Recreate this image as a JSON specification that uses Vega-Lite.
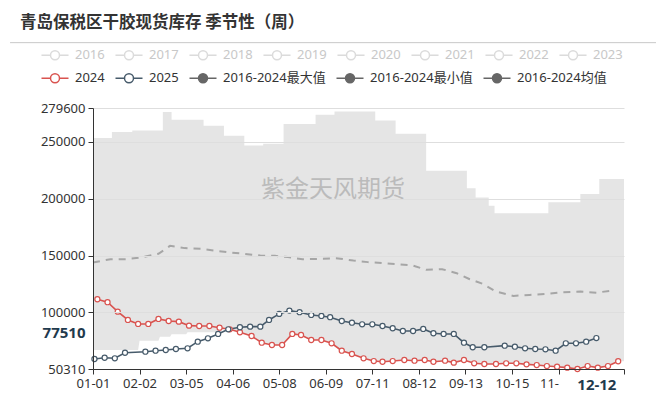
{
  "$schema": "https://vega.github.io/schema/vega-lite/v6.json",
  "width": 531,
  "height": 261,
  "autosize": {"type": "none"},
  "padding": {"left": 93, "top": 108, "right": 43, "bottom": 27},
  "background": "white",
  "title": {
    "text": "青岛保税区干胶现货库存 季节性（周）",
    "anchor": "start",
    "frame": "group",
    "dx": -73,
    "dy": 1,
    "offset": 12,
    "font": "Noto Sans CJK SC",
    "fontSize": 16.5,
    "fontWeight": "bold",
    "color": "#333333"
  },
  "config": {
    "view": {"stroke": null},
    "axis": {
      "labelFont": "Noto Sans",
      "labelFontSize": 13,
      "labelColor": "#333333",
      "domainColor": "#333333",
      "tickColor": "#333333",
      "gridColor": "#dedede"
    }
  },
  "datasets": {
    "maxv": [
      {"date": "2024-01-01", "value": 253200},
      {"date": "2024-01-14", "value": 258500},
      {"date": "2024-01-28", "value": 259900},
      {"date": "2024-02-18", "value": 276000},
      {"date": "2024-02-24", "value": 269300},
      {"date": "2024-03-17", "value": 264000},
      {"date": "2024-03-31", "value": 255200},
      {"date": "2024-04-14", "value": 246700},
      {"date": "2024-04-27", "value": 248200},
      {"date": "2024-05-11", "value": 265500},
      {"date": "2024-06-02", "value": 273700},
      {"date": "2024-06-15", "value": 276600},
      {"date": "2024-07-13", "value": 268700},
      {"date": "2024-07-27", "value": 257000},
      {"date": "2024-08-17", "value": 224500},
      {"date": "2024-09-14", "value": 209200},
      {"date": "2024-09-20", "value": 201000},
      {"date": "2024-09-29", "value": 193700},
      {"date": "2024-10-03", "value": 187200},
      {"date": "2024-11-09", "value": 196900},
      {"date": "2024-12-01", "value": 204000},
      {"date": "2024-12-14", "value": 217200},
      {"date": "2024-12-31", "value": 217200}
    ],
    "minv": [
      {"date": "2024-01-01", "value": 67000},
      {"date": "2024-02-01", "value": 67000},
      {"date": "2024-02-02", "value": 75200},
      {"date": "2024-02-15", "value": 75200},
      {"date": "2024-02-16", "value": 78700},
      {"date": "2024-02-23", "value": 78700},
      {"date": "2024-02-24", "value": 80800},
      {"date": "2024-03-05", "value": 80800},
      {"date": "2024-03-06", "value": 82600},
      {"date": "2024-03-29", "value": 82600},
      {"date": "2024-03-30", "value": 85200},
      {"date": "2024-04-04", "value": 85200},
      {"date": "2024-04-11", "value": 82600},
      {"date": "2024-04-19", "value": 79300},
      {"date": "2024-04-26", "value": 73400},
      {"date": "2024-05-03", "value": 71400},
      {"date": "2024-05-10", "value": 71400},
      {"date": "2024-05-17", "value": 81100},
      {"date": "2024-05-23", "value": 80200},
      {"date": "2024-05-30", "value": 75800},
      {"date": "2024-06-06", "value": 75800},
      {"date": "2024-06-13", "value": 72900},
      {"date": "2024-06-20", "value": 66400},
      {"date": "2024-06-27", "value": 63500},
      {"date": "2024-07-05", "value": 59700},
      {"date": "2024-07-12", "value": 57300},
      {"date": "2024-07-18", "value": 56700},
      {"date": "2024-07-25", "value": 57300},
      {"date": "2024-08-02", "value": 58200},
      {"date": "2024-08-09", "value": 57600},
      {"date": "2024-08-16", "value": 58200},
      {"date": "2024-08-22", "value": 56700},
      {"date": "2024-08-30", "value": 57600},
      {"date": "2024-09-05", "value": 55900},
      {"date": "2024-09-12", "value": 58200},
      {"date": "2024-09-19", "value": 55300},
      {"date": "2024-09-26", "value": 54700},
      {"date": "2024-10-04", "value": 54700},
      {"date": "2024-10-11", "value": 55300},
      {"date": "2024-10-18", "value": 55300},
      {"date": "2024-10-25", "value": 54400},
      {"date": "2024-11-01", "value": 53800},
      {"date": "2024-11-08", "value": 52900},
      {"date": "2024-11-15", "value": 52300},
      {"date": "2024-11-22", "value": 51500},
      {"date": "2024-11-29", "value": 50310},
      {"date": "2024-12-06", "value": 52900},
      {"date": "2024-12-13", "value": 51500},
      {"date": "2024-12-20", "value": 52900},
      {"date": "2024-12-27", "value": 57100},
      {"date": "2024-12-31", "value": 57100}
    ],
    "meanv": [
      {"date": "2024-01-01", "value": 143800},
      {"date": "2024-01-13", "value": 146800},
      {"date": "2024-01-24", "value": 146800},
      {"date": "2024-02-03", "value": 148200},
      {"date": "2024-02-15", "value": 151500},
      {"date": "2024-02-23", "value": 158500},
      {"date": "2024-03-04", "value": 156500},
      {"date": "2024-03-15", "value": 155900},
      {"date": "2024-03-26", "value": 154100},
      {"date": "2024-04-05", "value": 152600},
      {"date": "2024-04-14", "value": 151500},
      {"date": "2024-04-25", "value": 150000},
      {"date": "2024-05-05", "value": 149700},
      {"date": "2024-05-14", "value": 148600},
      {"date": "2024-05-24", "value": 146800},
      {"date": "2024-06-05", "value": 147100},
      {"date": "2024-06-16", "value": 147700},
      {"date": "2024-06-28", "value": 145600},
      {"date": "2024-07-08", "value": 144200},
      {"date": "2024-07-19", "value": 143300},
      {"date": "2024-07-28", "value": 142400},
      {"date": "2024-08-08", "value": 141200},
      {"date": "2024-08-17", "value": 137400},
      {"date": "2024-08-28", "value": 138000},
      {"date": "2024-09-07", "value": 134500},
      {"date": "2024-09-16", "value": 129200},
      {"date": "2024-09-25", "value": 125100},
      {"date": "2024-10-04", "value": 118300},
      {"date": "2024-10-16", "value": 114500},
      {"date": "2024-10-27", "value": 115400},
      {"date": "2024-11-08", "value": 116300},
      {"date": "2024-11-19", "value": 117800},
      {"date": "2024-12-01", "value": 118300},
      {"date": "2024-12-12", "value": 117400},
      {"date": "2024-12-23", "value": 119200}
    ],
    "lines": [
      {"series": "2024", "date": "2024-01-04", "value": 111600},
      {"series": "2024", "date": "2024-01-11", "value": 109000},
      {"series": "2024", "date": "2024-01-18", "value": 100700},
      {"series": "2024", "date": "2024-01-25", "value": 93400},
      {"series": "2024", "date": "2024-02-01", "value": 89900},
      {"series": "2024", "date": "2024-02-08", "value": 89900},
      {"series": "2024", "date": "2024-02-15", "value": 94300},
      {"series": "2024", "date": "2024-02-22", "value": 92500},
      {"series": "2024", "date": "2024-02-29", "value": 91900},
      {"series": "2024", "date": "2024-03-07", "value": 88400},
      {"series": "2024", "date": "2024-03-14", "value": 88100},
      {"series": "2024", "date": "2024-03-21", "value": 88100},
      {"series": "2024", "date": "2024-03-28", "value": 86600},
      {"series": "2024", "date": "2024-04-04", "value": 85200},
      {"series": "2024", "date": "2024-04-11", "value": 82600},
      {"series": "2024", "date": "2024-04-19", "value": 79300},
      {"series": "2024", "date": "2024-04-26", "value": 73400},
      {"series": "2024", "date": "2024-05-03", "value": 71400},
      {"series": "2024", "date": "2024-05-10", "value": 71400},
      {"series": "2024", "date": "2024-05-17", "value": 81100},
      {"series": "2024", "date": "2024-05-23", "value": 80200},
      {"series": "2024", "date": "2024-05-30", "value": 75800},
      {"series": "2024", "date": "2024-06-06", "value": 75800},
      {"series": "2024", "date": "2024-06-13", "value": 72900},
      {"series": "2024", "date": "2024-06-20", "value": 66400},
      {"series": "2024", "date": "2024-06-27", "value": 63500},
      {"series": "2024", "date": "2024-07-05", "value": 59700},
      {"series": "2024", "date": "2024-07-12", "value": 57300},
      {"series": "2024", "date": "2024-07-18", "value": 56700},
      {"series": "2024", "date": "2024-07-25", "value": 57300},
      {"series": "2024", "date": "2024-08-02", "value": 58200},
      {"series": "2024", "date": "2024-08-09", "value": 57600},
      {"series": "2024", "date": "2024-08-16", "value": 58200},
      {"series": "2024", "date": "2024-08-22", "value": 56700},
      {"series": "2024", "date": "2024-08-30", "value": 57600},
      {"series": "2024", "date": "2024-09-05", "value": 55900},
      {"series": "2024", "date": "2024-09-12", "value": 58200},
      {"series": "2024", "date": "2024-09-19", "value": 55300},
      {"series": "2024", "date": "2024-09-26", "value": 54700},
      {"series": "2024", "date": "2024-10-04", "value": 54700},
      {"series": "2024", "date": "2024-10-11", "value": 55300},
      {"series": "2024", "date": "2024-10-18", "value": 55300},
      {"series": "2024", "date": "2024-10-25", "value": 54400},
      {"series": "2024", "date": "2024-11-01", "value": 53800},
      {"series": "2024", "date": "2024-11-08", "value": 52900},
      {"series": "2024", "date": "2024-11-15", "value": 52300},
      {"series": "2024", "date": "2024-11-22", "value": 51500},
      {"series": "2024", "date": "2024-11-29", "value": 50310},
      {"series": "2024", "date": "2024-12-06", "value": 52900},
      {"series": "2024", "date": "2024-12-13", "value": 51500},
      {"series": "2024", "date": "2024-12-20", "value": 52900},
      {"series": "2024", "date": "2024-12-27", "value": 57100},
      {"series": "2025", "date": "2024-01-02", "value": 59100},
      {"series": "2025", "date": "2024-01-09", "value": 60200},
      {"series": "2025", "date": "2024-01-16", "value": 59700},
      {"series": "2025", "date": "2024-01-23", "value": 64600},
      {"series": "2025", "date": "2024-02-06", "value": 65500},
      {"series": "2025", "date": "2024-02-13", "value": 66400},
      {"series": "2025", "date": "2024-02-20", "value": 67000},
      {"series": "2025", "date": "2024-02-27", "value": 67900},
      {"series": "2025", "date": "2024-03-06", "value": 68500},
      {"series": "2025", "date": "2024-03-13", "value": 74300},
      {"series": "2025", "date": "2024-03-20", "value": 77300},
      {"series": "2025", "date": "2024-03-27", "value": 81100},
      {"series": "2025", "date": "2024-04-03", "value": 85200},
      {"series": "2025", "date": "2024-04-11", "value": 87000},
      {"series": "2025", "date": "2024-04-18", "value": 87500},
      {"series": "2025", "date": "2024-04-25", "value": 87500},
      {"series": "2025", "date": "2024-05-01", "value": 93400},
      {"series": "2025", "date": "2024-05-08", "value": 98700},
      {"series": "2025", "date": "2024-05-15", "value": 101600},
      {"series": "2025", "date": "2024-05-22", "value": 100200},
      {"series": "2025", "date": "2024-05-30", "value": 97800},
      {"series": "2025", "date": "2024-06-06", "value": 96900},
      {"series": "2025", "date": "2024-06-12", "value": 95800},
      {"series": "2025", "date": "2024-06-20", "value": 92500},
      {"series": "2025", "date": "2024-06-27", "value": 91000},
      {"series": "2025", "date": "2024-07-04", "value": 89600},
      {"series": "2025", "date": "2024-07-11", "value": 89600},
      {"series": "2025", "date": "2024-07-18", "value": 88100},
      {"series": "2025", "date": "2024-07-25", "value": 86100},
      {"series": "2025", "date": "2024-08-01", "value": 83700},
      {"series": "2025", "date": "2024-08-08", "value": 83700},
      {"series": "2025", "date": "2024-08-15", "value": 85500},
      {"series": "2025", "date": "2024-08-22", "value": 81700},
      {"series": "2025", "date": "2024-08-29", "value": 81100},
      {"series": "2025", "date": "2024-09-05", "value": 81100},
      {"series": "2025", "date": "2024-09-12", "value": 73400},
      {"series": "2025", "date": "2024-09-18", "value": 69400},
      {"series": "2025", "date": "2024-09-26", "value": 69400},
      {"series": "2025", "date": "2024-10-10", "value": 70800},
      {"series": "2025", "date": "2024-10-17", "value": 69900},
      {"series": "2025", "date": "2024-10-24", "value": 68500},
      {"series": "2025", "date": "2024-10-31", "value": 67900},
      {"series": "2025", "date": "2024-11-07", "value": 67600},
      {"series": "2025", "date": "2024-11-14", "value": 66400},
      {"series": "2025", "date": "2024-11-21", "value": 72900},
      {"series": "2025", "date": "2024-11-28", "value": 72900},
      {"series": "2025", "date": "2024-12-05", "value": 74300},
      {"series": "2025", "date": "2024-12-12", "value": 77510}
    ]
  },
  "layer": [
    {
      "encoding": {
        "x": {
          "field": "date",
          "type": "temporal",
          "scale": {
            "type": "utc",
            "domain": [
              {"year": 2024, "month": 1, "date": 1, "utc": true},
              {"year": 2024, "month": 12, "date": 31, "utc": true}
            ]
          },
          "axis": {
            "title": null,
            "grid": false,
            "zindex": 1,
            "tickSize": 5,
            "labelPadding": 3,
            "labelOverlap": false,
            "labelFlush": false,
            "values": [
              {"year": 2024, "month": 1, "date": 1, "utc": true},
              {"year": 2024, "month": 2, "date": 2, "utc": true},
              {"year": 2024, "month": 3, "date": 5, "utc": true},
              {"year": 2024, "month": 4, "date": 6, "utc": true},
              {"year": 2024, "month": 5, "date": 8, "utc": true},
              {"year": 2024, "month": 6, "date": 9, "utc": true},
              {"year": 2024, "month": 7, "date": 11, "utc": true},
              {"year": 2024, "month": 8, "date": 12, "utc": true},
              {"year": 2024, "month": 9, "date": 13, "utc": true},
              {"year": 2024, "month": 10, "date": 15, "utc": true},
              {"year": 2024, "month": 11, "date": 16, "utc": true},
              {"year": 2024, "month": 12, "date": 12, "utc": true},
              {"year": 2024, "month": 12, "date": 31, "utc": true}
            ],
            "labelExpr": "utcFormat(datum.value, '%m-%d') == '11-16' ? '11-' : (utcFormat(datum.value, '%m-%d') == '12-31' ? '' : utcFormat(datum.value, '%m-%d'))",
            "labelAlign": {"condition": {"test": "utcFormat(datum.value, '%m-%d') == '11-16'", "value": "right"}, "value": "center"},
            "labelFontWeight": {"condition": {"test": "utcFormat(datum.value, '%m-%d') == '12-12'", "value": "bold"}, "value": "normal"},
            "labelFontSize": {"condition": {"test": "utcFormat(datum.value, '%m-%d') == '12-12'", "value": 15}, "value": 13},
            "labelColor": {"condition": {"test": "utcFormat(datum.value, '%m-%d') == '12-12'", "value": "#1f3a4d"}, "value": "#333333"},
            "tickOpacity": {"condition": {"test": "utcFormat(datum.value, '%m-%d') == '12-12'", "value": 0}, "value": 1}
          }
        },
        "y": {
          "field": "value",
          "type": "quantitative",
          "scale": {"domain": [50310, 279600], "nice": false, "zero": false},
          "axis": {
            "title": null,
            "grid": true,
            "zindex": 1,
            "tickSize": 5,
            "labelPadding": 3,
            "labelOverlap": false,
            "format": "d",
            "values": [50310, 77510, 100000, 150000, 200000, 250000, 279600],
            "gridOpacity": {"condition": {"test": "datum.value == 77510 || datum.value == 50310", "value": 0}, "value": 1},
            "tickOpacity": {"condition": {"test": "datum.value == 77510", "value": 0}, "value": 1},
            "labelOffset": {"condition": {"test": "datum.value == 77510", "value": -6}, "value": 0},
            "labelFontWeight": {"condition": {"test": "datum.value == 77510", "value": "bold"}, "value": "normal"},
            "labelFontSize": {"condition": {"test": "datum.value == 77510", "value": 15}, "value": 13},
            "labelColor": {"condition": {"test": "datum.value == 77510", "value": "#1f3a4d"}, "value": "#333333"}
          }
        }
      },
      "layer": [
        {
          "data": {"name": "maxv"},
          "mark": {"type": "area", "interpolate": "step-after", "color": "#e5e5e5"},
          "encoding": {"y2": {"datum": 50310}}
        },
        {
          "data": {"name": "minv"},
          "mark": {"type": "area", "color": "#ffffff"},
          "encoding": {"y2": {"datum": 50310}}
        },
        {
          "data": {"name": "meanv"},
          "mark": {"type": "line", "color": "#a6a6a6", "strokeWidth": 2, "strokeDash": [7, 6]},
          "encoding": {}
        },
        {
          "data": {"name": "lines"},
          "mark": {
            "type": "line",
            "strokeWidth": 1.6,
            "point": {"filled": false, "fill": "#ffffff", "size": 26, "strokeWidth": 1.2}
          },
          "encoding": {
            "color": {
              "field": "series",
              "type": "nominal",
              "scale": {
                "domain": ["2024", "2025", "2016-2024最大值", "2016-2024最小值", "2016-2024均值"],
                "range": ["#d9534f", "#475b6b", "#666666", "#666666", "#666666"]
              },
              "legend": {
                "title": null,
                "orient": "none",
                "direction": "horizontal",
                "legendX": -48,
                "legendY": -40,
                "padding": 0,
                "symbolType": "M-1.5,0L-0.5,0M0.5,0L1.5,0M0.5,0A0.5,0.5,0,1,1,-0.5,0A0.5,0.5,0,1,1,0.5,0Z",
                "symbolSize": 324,
                "symbolStrokeWidth": 1.5,
                "labelFont": "Noto Sans, Noto Sans CJK SC",
                "labelFontSize": 13,
                "labelColor": "#333333",
                "labelOffset": 10,
                "columnPadding": 7,
                "encode": {
                  "symbols": {
                    "update": {
                      "fill": {"signal": "indexof(['2016-2024最大值', '2016-2024最小值', '2016-2024均值'], datum.value) >= 0 ? '#666666' : '#ffffff'"},
                      "opacity": {"value": 1}
                    }
                  }
                }
              }
            }
          }
        },
        {
          "data": {"values": []},
          "mark": {"type": "point", "filled": false, "color": "#cccccc"},
          "encoding": {
            "shape": {
              "field": "year",
              "type": "nominal",
              "scale": {
                "domain": ["2016", "2017", "2018", "2019", "2020", "2021", "2022", "2023"],
                "range": [
                  "M-1.5,0L-0.5,0M0.5,0L1.5,0M0.5,0A0.5,0.5,0,1,1,-0.5,0A0.5,0.5,0,1,1,0.5,0Z",
                  "M-1.5,0L-0.5,0M0.5,0L1.5,0M0.5,0A0.5,0.5,0,1,1,-0.5,0A0.5,0.5,0,1,1,0.5,0Z",
                  "M-1.5,0L-0.5,0M0.5,0L1.5,0M0.5,0A0.5,0.5,0,1,1,-0.5,0A0.5,0.5,0,1,1,0.5,0Z",
                  "M-1.5,0L-0.5,0M0.5,0L1.5,0M0.5,0A0.5,0.5,0,1,1,-0.5,0A0.5,0.5,0,1,1,0.5,0Z",
                  "M-1.5,0L-0.5,0M0.5,0L1.5,0M0.5,0A0.5,0.5,0,1,1,-0.5,0A0.5,0.5,0,1,1,0.5,0Z",
                  "M-1.5,0L-0.5,0M0.5,0L1.5,0M0.5,0A0.5,0.5,0,1,1,-0.5,0A0.5,0.5,0,1,1,0.5,0Z",
                  "M-1.5,0L-0.5,0M0.5,0L1.5,0M0.5,0A0.5,0.5,0,1,1,-0.5,0A0.5,0.5,0,1,1,0.5,0Z",
                  "M-1.5,0L-0.5,0M0.5,0L1.5,0M0.5,0A0.5,0.5,0,1,1,-0.5,0A0.5,0.5,0,1,1,0.5,0Z"
                ]
              },
              "legend": {
                "title": null,
                "orient": "none",
                "direction": "horizontal",
                "legendX": -48,
                "legendY": -63,
                "padding": 0,
                "symbolSize": 324,
                "symbolStrokeWidth": 1.5,
                "symbolStrokeColor": "#cccccc",
                "symbolFillColor": "#ffffff",
                "labelFont": "Noto Sans, Noto Sans CJK SC",
                "labelFontSize": 13,
                "labelColor": "#c8c8c8",
                "labelOffset": 10,
                "columnPadding": 7,
                "encode": {
                  "symbols": {
                    "update": {
                      "fill": {"value": "#ffffff"},
                      "stroke": {"value": "#cccccc"},
                      "opacity": {"value": 1}
                    }
                  }
                }
              }
            }
          }
        }
      ]
    },
    {
      "data": {"values": [{}]},
      "mark": {"type": "text", "text": "紫金天风期货", "font": "Noto Sans CJK SC", "fontSize": 24, "color": "#999999", "opacity": 0.55, "align": "center", "baseline": "middle"},
      "encoding": {
        "x": {"datum": {"year": 2024, "month": 6, "date": 14, "utc": true}, "type": "temporal"},
        "y": {"datum": 207700, "type": "quantitative"}
      }
    },
    {
      "data": {"values": [{}]},
      "mark": {"type": "rule", "color": "#c8c8c8", "strokeWidth": 1},
      "encoding": {
        "x": {"datum": {"year": 2023, "month": 11, "date": 5, "utc": true}, "type": "temporal"},
        "x2": {"datum": {"year": 2025, "month": 1, "date": 22, "utc": true}},
        "y": {"datum": 337000, "type": "quantitative"}
      }
    }
  ]
}
